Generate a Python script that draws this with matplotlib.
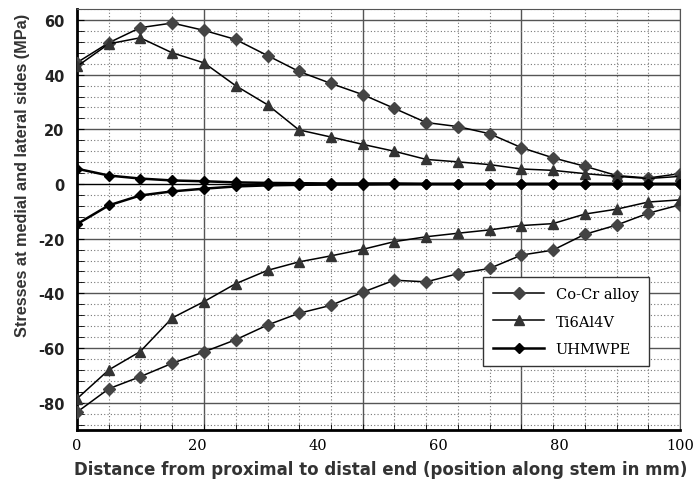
import matplotlib
matplotlib.use("Agg")
import matplotlib.pyplot as plt
from matplotlib.lines import Line2D

plt.rcParams["axes.unicode_minus"] = False

# posições ao longo da haste (mm)
pos = [0, 5.3, 10.5, 15.8, 21.1, 26.3, 31.6, 36.8, 42.1, 47.4,
       52.6, 57.9, 63.2, 68.4, 73.7, 78.9, 84.2, 89.5, 94.7, 100]

cocr_top = [44.4, 51.7, 57.2, 58.9, 56.2, 52.9, 47.0, 41.2, 36.8, 32.7,
            27.7, 22.5, 21.0, 18.4, 13.3, 9.6, 6.5, 3.1, 2.2, 3.8]
cocr_bot = [-83.5, -74.9, -70.5, -65.6, -61.4, -57.0, -51.6, -47.3, -44.4, -39.6,
            -35.2, -35.8, -32.8, -30.9, -26.0, -24.2, -18.4, -15.0, -10.7, -7.6]
ti_top = [43.0, 51.3, 53.5, 48.0, 44.3, 36.0, 29.0, 19.8, 17.2, 14.5,
          12.0, 9.0, 8.1, 7.1, 5.5, 5.0, 3.8, 2.8, 2.0, 2.8]
ti_bot = [-78.6, -68.0, -61.3, -49.0, -43.0, -36.5, -31.6, -28.5, -26.3, -23.9,
          -21.1, -19.3, -18.0, -16.8, -15.2, -14.5, -11.0, -9.2, -6.6, -5.8]
uh_top = [5.6, 3.1, 2.0, 1.3, 1.0, 0.6, 0.4, 0.3, 0.2, 0.2,
          0.2, 0.1, 0.1, 0.1, 0.1, 0.1, 0.1, 0.1, 0.1, 0.1]
uh_bot = [-14.7, -7.8, -4.2, -2.7, -1.7, -0.9, -0.5, -0.3, -0.2, -0.2,
          -0.1, -0.1, -0.1, -0.1, -0.1, -0.1, -0.1, -0.1, -0.1, -0.1]

xtick_vals = [0, 20, 40, 60, 80, 100]
ytick_vals = [60, 40, 20, 0, -20, -40, -60, -80]

fig = plt.figure(figsize=(6.99, 4.81), dpi=100)
ax = fig.add_axes([0.110, 0.104, 0.863, 0.875])

# grade
for i, p in enumerate(pos):
    if i % 5 == 4:
        ax.axvline(p, color="#555555", lw=1.0, zorder=1)
    else:
        ax.axvline(p, color="#777777", lw=0.8, ls=(0, (1, 2)), zorder=1)
for y in range(-88, 65, 4):
    if y % 20 == 0:
        ax.axhline(y, color="#555555" if y != 0 else "black", lw=1.0, zorder=1)
    else:
        ax.axhline(y, color="#777777", lw=0.8, ls=(0, (1, 2)), zorder=1)

lk = dict(color="black", lw=1.1, zorder=3)
ax.plot(pos, cocr_top, marker="D", ms=6.5, mfc="#444444", mec="#444444", **lk)
ax.plot(pos, cocr_bot, marker="D", ms=6.5, mfc="#444444", mec="#444444", **lk)
ax.plot(pos, ti_top, marker="^", ms=7.5, mfc="#333333", mec="#333333", **lk)
ax.plot(pos, ti_bot, marker="^", ms=7.5, mfc="#333333", mec="#333333", **lk)
ax.plot(pos, uh_top, marker="D", ms=5.5, mfc="black", mec="black", color="black", lw=1.8, zorder=4)
ax.plot(pos, uh_bot, marker="D", ms=5.5, mfc="black", mec="black", color="black", lw=1.8, zorder=4)

ax.set_xlim(0, 100)
ax.set_ylim(-90, 64)

ax.set_xticks(xtick_vals)
ax.set_xticks(pos, minor=True)
ax.set_yticks(ytick_vals)
ax.set_yticks(list(range(-88, 65, 4)), minor=True)
ax.tick_params(axis="x", which="major", length=0, pad=6)
ax.tick_params(axis="x", which="minor", direction="in", length=4, color="black")
ax.tick_params(axis="y", which="both", direction="in", length=5, color="black", pad=9)
for t in ax.get_xticklabels():
    t.set_fontfamily("DejaVu Serif")
    t.set_fontsize(10.5)
for t in ax.get_yticklabels():
    t.set_fontfamily("DejaVu Sans")
    t.set_fontweight("bold")
    t.set_fontsize(10.5)
    t.set_color("#222222")

for s in ["left", "bottom"]:
    ax.spines[s].set_linewidth(2.0)
for s in ["right", "top"]:
    ax.spines[s].set_linewidth(0.8)
    ax.spines[s].set_color("#555555")

fig.text(0.032, 0.636, "Stresses at medial and lateral sides (MPa)", rotation=90,
         ha="center", va="center", fontfamily="Liberation Sans",
         fontweight="bold", fontsize=11.7, color="#333333")
fig.text(0.545, 0.004, "Distance from proximal to distal end (position along stem in mm)",
         ha="center", va="bottom", fontfamily="DejaVu Sans", fontweight="bold",
         fontsize=12.0, color="#333333")

handles = [
    Line2D([], [], color="black", lw=1.1, marker="D", ms=6.5, mfc="#444444", mec="#444444"),
    Line2D([], [], color="black", lw=1.1, marker="^", ms=7.5, mfc="#333333", mec="#333333"),
    Line2D([], [], color="black", lw=1.8, marker="D", ms=5.5, mfc="black", mec="black"),
]
leg = ax.legend(handles, ["Co-Cr alloy", "Ti6Al4V", "UHMWPE"], loc="upper left",
                bbox_to_anchor=(0.673, 0.363), borderaxespad=0, frameon=True, fancybox=False,
                edgecolor="#333333", framealpha=1, handlelength=3.5, labelspacing=0.9,
                borderpad=0.7, prop={"family": "DejaVu Serif", "size": 10.5})
leg.get_frame().set_linewidth(1.0)

fig.savefig("out.png", dpi=100)
